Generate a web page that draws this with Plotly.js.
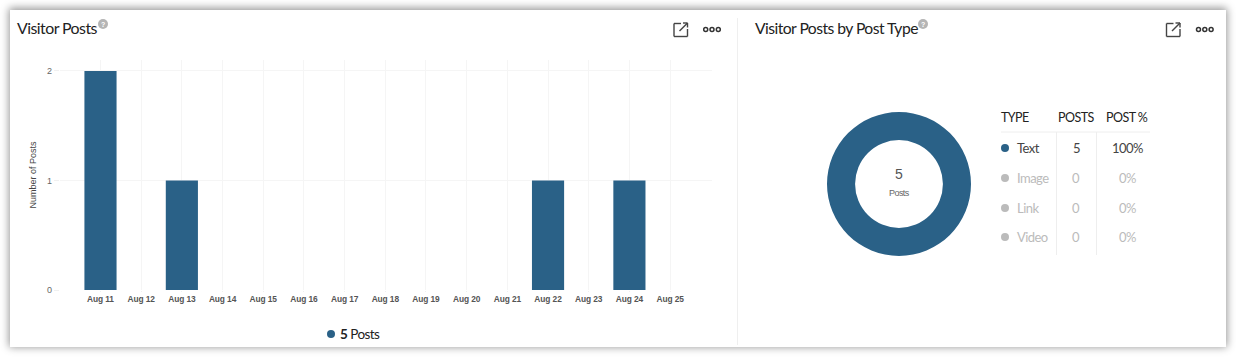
<!DOCTYPE html>
<html><head><meta charset="utf-8">
<script src="https://cdn.plot.ly/plotly-3.0.0.min.js"></script>
<style>
html,body{margin:0;padding:0;background:#fff;width:1236px;height:358px;overflow:hidden}
#card{position:absolute;left:10px;top:10px;width:1216px;height:337px;background:#fff;box-shadow:0 -1px 8px 1px rgba(0,0,0,.42)}
#chart{position:absolute;left:0;top:0;width:1236px;height:358px}
.annotation-text{letter-spacing:-0.55px}
.xtick text{letter-spacing:-0.1px}
</style></head><body>
<div id="card"></div><div id="chart"></div>
<script>
const dates = ["Aug 11","Aug 12","Aug 13","Aug 14","Aug 15","Aug 16","Aug 17","Aug 18","Aug 19","Aug 20","Aug 21","Aug 22","Aug 23","Aug 24","Aug 25"];
const posts = [2,0,1,0,0,0,0,0,0,0,0,1,0,1,0];
const types = ["Text","Image","Link","Video"];
const typePosts = [5,0,0,0];
const typePct = ["100%","0%","0%","0%"];
const rowY = [147.5,177.5,207.5,236.5];
const dotY = [148,178,208,237];
const BLUE = "#2a6187", GREY = "#bbbbbb", W = 1236, H = 358;
const px = x => x / W, py = y => 1 - y / H;
const LATO = "Lato, sans-serif", ARIAL = "'Liberation Sans', Arial, sans-serif";

function label(x, y, text, size, color, anchor, family, extra) {
  return Object.assign({xref:"paper", yref:"paper", x:px(x), y:py(y), text, showarrow:false, borderpad:0, borderwidth:0,
    xanchor:anchor||"center", yanchor:"middle", font:{family:family||LATO, size, color}}, extra||{});
}
function dot(x, y, r, color) {
  return {type:"circle", xref:"paper", yref:"paper", x0:px(x-r), x1:px(x+r), y0:py(y+r), y1:py(y-r),
    fillcolor:color, line:{width:0}};
}
function hline(x0, x1, y, color) { return {type:"line", xref:"paper", yref:"paper", x0:px(x0), x1:px(x1), y0:py(y), y1:py(y), line:{color, width:1}}; }
function vline(x, y0, y1, color) { return {type:"line", xref:"paper", yref:"paper", x0:px(x), x1:px(x), y0:py(y0), y1:py(y1), line:{color, width:1}}; }
function seg(x0,y0,x1,y1,color,w){ return {type:"line", xref:"paper", yref:"paper", x0:px(x0), x1:px(x1), y0:py(y0), y1:py(y1), line:{color, width:w||1.4}}; }
function ring(x,y,r){ return {type:"circle", xref:"paper", yref:"paper", x0:px(x-r), x1:px(x+r), y0:py(y+r), y1:py(y-r), fillcolor:"#fff", line:{color:"#333", width:1.5}}; }
function expandIcon(x){
  const c="#444";
  return [seg(x+7,23.5,x,23.5,c),seg(x,23.5,x,36.5,c),seg(x,36.5,x+13.5,36.5,c),seg(x+13.5,36.5,x+13.5,29,c),
    seg(x+5.5,31,x+13.5,23,c),seg(x+9,23,x+13.5,23,c),seg(x+13.5,23,x+13.5,27.5,c)];
}
function moreIcon(x){ return [ring(x,29.5,2),ring(x+6.3,29.5,2),ring(x+12.6,29.5,2)]; }

const shapes = [
  vline(737.5,18,345,"#efefef"),
  hline(1001,1150,132,"#eeeeee"),
  vline(1056.5,132,255,"#eeeeee"),
  vline(1096.5,132,255,"#eeeeee"),
  dot(103,24,5,"#b5b5b5"), dot(923,24,5,"#b5b5b5"),
  dot(331,334,4,BLUE),
  ...expandIcon(674), ...moreIcon(705.7),
  ...expandIcon(1166.5), ...moreIcon(1198.5),
  ...types.map((t,i)=>dot(1005,dotY[i],4,i===0?BLUE:GREY))
];

const annotations = [
  label(17,27.7,"Visitor Posts",15.9,"#222","left"),
  label(755,27.7,"Visitor Posts by Post Type",15.7,"#222","left"),
  label(103,24,"?",7,"#fff","center",ARIAL,{font:{family:ARIAL,size:7,color:"#fff",weight:700}}),
  label(923,24,"?",7,"#fff","center",ARIAL,{font:{family:ARIAL,size:7,color:"#fff",weight:700}}),
  label(340,333.8,"<b>5</b> Posts",13.5,"#222","left"),
  label(899,174,String(typePosts.reduce((a,b)=>a+b,0)),14,"#555","center",ARIAL),
  label(899,192.5,"Posts",9,"#666","center",ARIAL),
  label(1001,117.5,"TYPE",12.5,"#222","left"),
  label(1076,117.5,"POSTS",12.5,"#222"),
  label(1127,117.5,"POST %",12.5,"#222"),
];
types.forEach((t,i)=>{
  const c = i===0 ? "#444" : GREY;
  annotations.push(label(1017,rowY[i],t,13,c,"left"));
  annotations.push(label(1076,rowY[i],String(typePosts[i]),13,c));
  annotations.push(label(1127,rowY[i],typePct[i],13,c));
});

const traces = [
  {type:"bar", x:dates, y:posts, marker:{color:BLUE, line:{width:0}}, width:0.79, hoverinfo:"x+y", showlegend:false},
  {type:"pie", labels:types, values:typePosts, hole:0.61, sort:false, textinfo:"none", showlegend:false,
   marker:{colors:[BLUE,GREY,GREY,GREY], line:{width:0}},
   domain:{x:[px(827),px(971)], y:[py(256),py(112)]}}
];
const layout = {
  width:W, height:H, margin:{l:0,r:0,t:0,b:0}, autosize:false,
  paper_bgcolor:"rgba(0,0,0,0)", plot_bgcolor:"rgba(0,0,0,0)", showlegend:false,
  xaxis:{type:"category", categories:dates, categoryorder:"array", categoryarray:dates, range:[-1,15.03],
    domain:[px(59.8),px(712)], showgrid:true, gridcolor:"#f5f5f5", gridwidth:1, zeroline:false, showline:false,
    ticks:"outside", ticklen:1, tickcolor:"#f0f0f0", tickangle:0,
    tickfont:{family:ARIAL,size:8.4,color:"#555",weight:700}},
  yaxis:{range:[0,2.1], domain:[py(290),py(60)], tickvals:[0,1,2], ticktext:["0","1","2"],
    showgrid:true, gridcolor:"#f5f5f5", gridwidth:1, zeroline:false, showline:false,
    ticks:"outside", ticklen:5, tickcolor:"#f0f0f0", tickfont:{family:ARIAL,size:9,color:"#666"},
    title:{text:"Number of Posts", standoff:8, font:{family:ARIAL,size:9,color:"#444"}}},
  shapes, annotations
};
Plotly.newPlot("chart", traces, layout, {displayModeBar:false, staticPlot:true});
</script></body></html>
